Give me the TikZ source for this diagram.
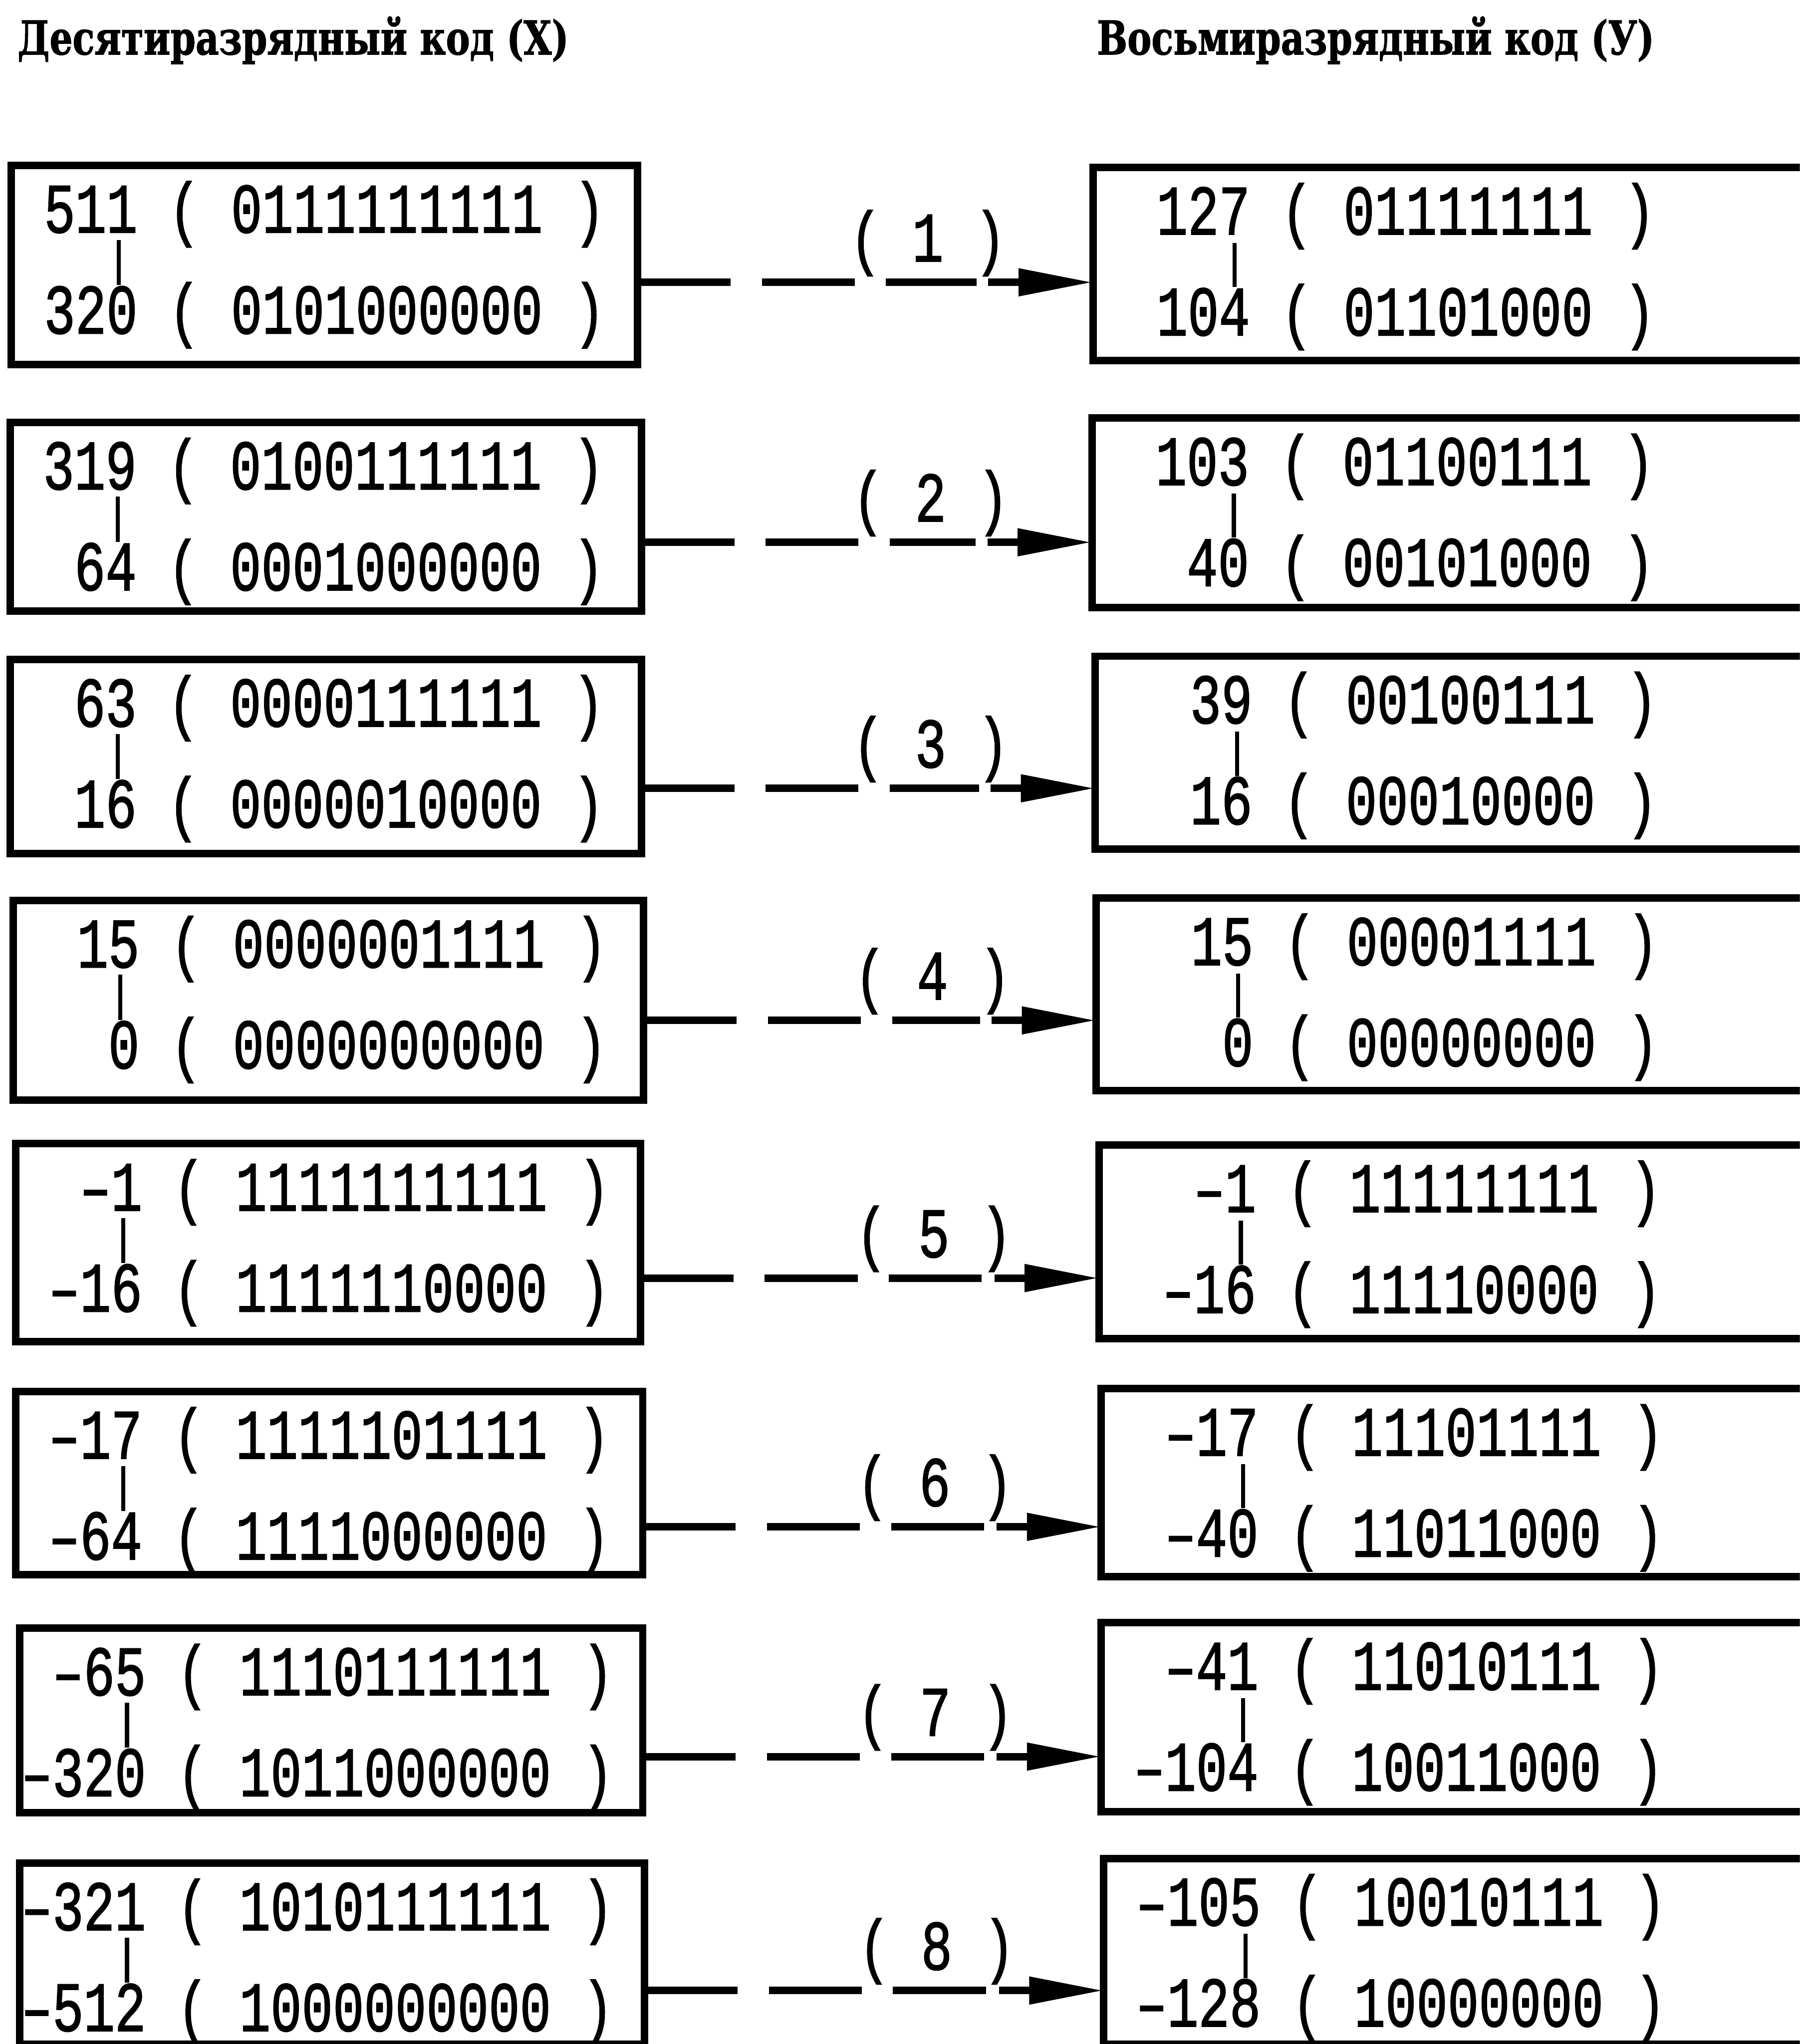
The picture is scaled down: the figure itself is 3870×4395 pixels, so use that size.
\documentclass[tikz,border=0pt]{standalone}
\usepackage{fontspec}
\usepackage{graphicx}
\usetikzlibrary{arrows.meta,calc,fit}

\newfontfamily\codefont{Liberation Mono}[FakeBold=1.6]
\newfontfamily\headfont{DejaVu Serif}[FakeBold=1.5]

% typewriter digits, condensed afterwards by \resizebox
\newcommand\cf{\codefont\fontsize{38pt}{40pt}\selectfont}
\newcommand\hf{\headfont\bfseries\fontsize{25pt}{29pt}\selectfont}
\newlength\cw

% one cell of the typewriter grid is 16.75pt wide
\newcommand\numfield[1]{\makebox[4\cw][r]{#1}}
\newcommand\lcode[2]{\resizebox{318.25pt}{\height}{\cf\numfield{#1}\hspace*{\cw}(\hspace*{\cw}#2\hspace*{\cw})}}
\newcommand\rcode[2]{\resizebox{284.75pt}{\height}{\cf\numfield{#1}\hspace*{\cw}(\hspace*{\cw}#2\hspace*{\cw})}}
\newcommand\tagtext[1]{\resizebox{83.75pt}{\height}{\cf(\hspace*{\cw}#1\hspace*{\cw})}}

\tikzset{
  codebox/.style={draw, line width=4pt, inner sep=0pt, outer sep=0pt, rectangle},
  codetext/.style={inner sep=0pt, anchor=base west},
  rangebar/.style={line width=2.2pt},
  dashconn/.style={line width=4pt, dash pattern=on 50pt off 16.75pt},
  arrowconn/.style={line width=4pt, -{Triangle[length=40pt,width=14pt]}},
  tag/.style={inner sep=0pt, anchor=base},
  heading/.style={inner sep=0pt, anchor=base west},
}

% ten-bit code box: name, x1, y1, x2, y2, upper value, upper bits, lower value, lower bits
\newcommand\leftbox[9]{%
  \node[codebox, fit={(#2,#3) (#4,#5)}] (#1) {};
  \node[codetext] (#1t) at ($(#1.north west)+(3,144)$) {\lcode{#6}{#7}};
  \node[codetext] (#1b) at ($(#1.north west)+(3,361)$) {\lcode{#8}{#9}};
  \draw[rangebar] ($(#1.north west)+(231,160)$) -- ($(#1.north west)+(231,257)$);
}
% eight-bit code box, open to the right
\newcommand\rightbox[8]{%
  \node[codebox, fit={(#2,#3) (3900,#4)}] (#1) {};
  \node[codetext] (#1t) at ($(#1.north west)+(69,144)$) {\rcode{#5}{#6}};
  \node[codetext] (#1b) at ($(#1.north west)+(69,361)$) {\rcode{#7}{#8}};
  \draw[rangebar] ($(#1.north west)+(305,162)$) -- ($(#1.north west)+(305,257)$);
}

\begin{document}
\settowidth\cw{\cf 0}%
\begin{tikzpicture}[x=0.25pt,y=-0.25pt]
\useasboundingbox (0,0) rectangle (3870,4395);
\fill[white] (0,0) rectangle (3870,4395);
\clip (0,0) rectangle (3870,4395);

% column headings
\node[heading] (hx) at (37,117) {\resizebox{296.25pt}{\height}{\hf Десятиразрядный код (X)}};
\node[heading] (hy) at (2358,117) {\resizebox{299.5pt}{\height}{\hf Восьмиразрядный код (У)}};

% ten-bit ranges
\leftbox{L1}{24}{356}{1371}{784}{511}{0111111111}{320}{0101000000}
\leftbox{L2}{22}{908}{1379}{1314}{319}{0100111111}{64}{0001000000}
\leftbox{L3}{22}{1418}{1379}{1835}{63}{0000111111}{16}{0000010000}
\leftbox{L4}{28}{1936}{1384}{2365}{15}{0000001111}{0}{0000000000}
\leftbox{L5}{34}{2459}{1377}{2885}{–1}{1111111111}{–16}{1111110000}
\leftbox{L6}{34}{2992}{1382}{3386}{–17}{1111101111}{–64}{1111000000}
\leftbox{L7}{42}{3501}{1382}{3898}{–65}{1110111111}{–320}{1011000000}
\leftbox{L8}{42}{4006}{1386}{4395}{–321}{1010111111}{–512}{1000000000}

% eight-bit ranges
\rightbox{R1}{2350}{360}{775}{127}{01111111}{104}{01101000}
\rightbox{R2}{2348}{899}{1306}{103}{01100111}{40}{00101000}
\rightbox{R3}{2355}{1411}{1826}{39}{00100111}{16}{00010000}
\rightbox{R4}{2357}{1931}{2345}{15}{00001111}{0}{00000000}
\rightbox{R5}{2363}{2462}{2878}{–1}{11111111}{–16}{11110000}
\rightbox{R6}{2368}{2986}{3390}{–17}{11101111}{–40}{11011000}
\rightbox{R7}{2368}{3489}{3895}{–41}{11010111}{–104}{10011000}
\rightbox{R8}{2373}{3996}{4395}{–105}{10010111}{–128}{10000000}

% mapping arrows with their numbers
\foreach \k/\ya/\xt in {1/607/1995, 2/1166/2001, 3/1695/2001, 4/2194/2005,
                        5/2748/2008, 6/3283/2010, 7/3777/2011, 8/4280/2014} {
  \coordinate (h\k) at (0,\ya);
  \coordinate (s\k) at ($(R\k.west |- h\k)+(-225,0)$);
  \draw[dashconn] (L\k.east |- h\k) -- ($(s\k)+(-25,0)$);
  \draw[arrowconn] (s\k) -- (R\k.west |- h\k);
  \node[tag] (n\k) at (\xt,\ya-45) {\tagtext{\k}};
}
\end{tikzpicture}
\end{document}
